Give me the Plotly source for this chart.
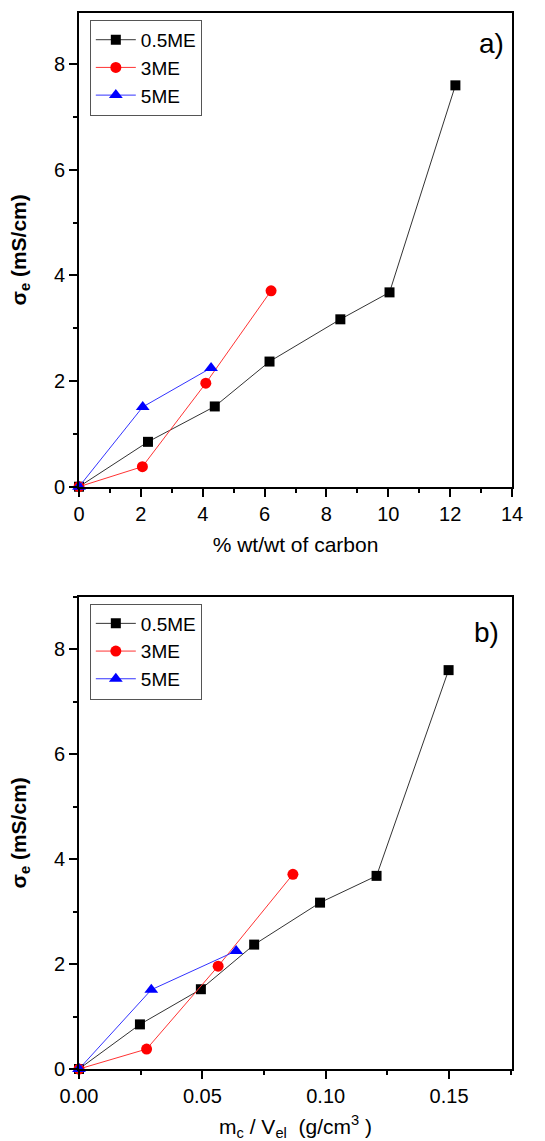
import plotly.graph_objects as go

# ---- data ----
series_names = ["0.5ME", "3ME", "5ME"]

# panel a: % wt/wt of carbon
a_x_05 = [0, 2.23, 4.39, 6.16, 8.45, 10.04, 12.17]
a_x_3 = [0, 2.05, 4.10, 6.21]
a_x_5 = [0, 2.06, 4.27]

# panel b: m_c / V_el (g/cm3)
b_x_05 = [0, 0.0247, 0.0494, 0.0710, 0.0977, 0.1206, 0.1498]
b_x_3 = [0, 0.0274, 0.0564, 0.0867]
b_x_5 = [0, 0.0293, 0.0637]

# conductivity (mS/cm)
y_05 = [0, 0.85, 1.52, 2.37, 3.17, 3.68, 7.60]
y_3 = [0, 0.38, 1.96, 3.71]
y_5 = [0, 1.51, 2.25]

colors = ["#000000", "#ff0000", "#0000ff"]
line_colors = ["#333333", "#ff3333", "#3333ff"]
symbols = ["square", "circle", "triangle-up"]
msizes = [10, 11, 12]

FONT = "Liberation Sans, Arial, sans-serif"

fig = go.Figure()

a_sets = [(a_x_05, y_05), (a_x_3, y_3), (a_x_5, y_5)]
b_sets = [(b_x_05, y_05), (b_x_3, y_3), (b_x_5, y_5)]

for i, (xs, ys) in enumerate(a_sets):
    fig.add_trace(go.Scatter(
        x=xs, y=ys, mode="lines+markers", name=series_names[i],
        line=dict(color=line_colors[i], width=1),
        marker=dict(symbol=symbols[i], size=msizes[i], color=colors[i]),
        xaxis="x", yaxis="y", legend="legend", cliponaxis=False))

for i, (xs, ys) in enumerate(b_sets):
    fig.add_trace(go.Scatter(
        x=xs, y=ys, mode="lines+markers", name=series_names[i],
        line=dict(color=line_colors[i], width=1),
        marker=dict(symbol=symbols[i], size=msizes[i], color=colors[i]),
        xaxis="x2", yaxis="y2", legend="legend2", cliponaxis=False))

axis_common = dict(
    showline=True, linecolor="black", linewidth=2, mirror=True,
    ticks="outside", ticklen=8, tickwidth=1.5, tickcolor="black",
    showgrid=False, zeroline=False, automargin=False,
    tickfont=dict(family=FONT, size=20, color="black"),
)

minor = dict(ticks="outside", ticklen=4, tickwidth=1.5, tickcolor="black", showgrid=False)

ytitle = "<b>σ<sub>e</sub> (mS/cm)</b>"

fig.update_layout(
    width=545, height=1141,
    margin=dict(l=79, r=33, t=13, b=72),
    plot_bgcolor="white", paper_bgcolor="white",
    font=dict(family=FONT, color="black"),
    showlegend=True,
    xaxis=dict(domain=[0, 1], anchor="y", range=[0, 14], dtick=2,
               minor=dict(dtick=1, **minor),
               title=dict(text="% wt/wt of carbon", font=dict(size=21), standoff=14),
               **axis_common),
    yaxis=dict(domain=[0.5514, 1], anchor="x", range=[0, 8.97], dtick=2,
               minor=dict(dtick=1, **minor),
               title=dict(text=ytitle, font=dict(size=21), standoff=22),
               **axis_common),
    xaxis2=dict(domain=[0, 1], anchor="y2", range=[0, 0.1755], dtick=0.05,
                tickformat=".2f",
                minor=dict(dtick=0.025, **minor),
                title=dict(text="m<sub>c</sub> / V<sub>el</sub>  (g/cm<sup>3</sup> )",
                           font=dict(size=21), standoff=21),
                **axis_common),
    yaxis2=dict(domain=[0, 0.4473], anchor="x2", range=[0, 9.0], dtick=2,
                minor=dict(dtick=1, **minor),
                title=dict(text=ytitle, font=dict(size=21), standoff=22),
                **axis_common),
    legend=dict(x=0.025, y=0.9935, xanchor="left", yanchor="top",
                bordercolor="#555555", borderwidth=1, bgcolor="white",
                font=dict(family=FONT, size=19), tracegroupgap=0,
                itemwidth=40),
    legend2=dict(x=0.025, y=0.4473 - 0.0065, xanchor="left", yanchor="top",
                 bordercolor="#555555", borderwidth=1, bgcolor="white",
                 font=dict(family=FONT, size=19), tracegroupgap=0,
                 itemwidth=40),
    annotations=[
        dict(text="a)", xref="x domain", yref="y domain", x=0.985, y=0.935,
             xanchor="right", yanchor="middle", showarrow=False,
             font=dict(family=FONT, size=28, color="black")),
        dict(text="b)", xref="x2 domain", yref="y2 domain", x=0.975, y=0.925,
             xanchor="right", yanchor="middle", showarrow=False,
             font=dict(family=FONT, size=28, color="black")),
    ],
)

fig.write_html("out.html", config={"displayModeBar": False},
               post_script="document.body.style.margin='0px';")
